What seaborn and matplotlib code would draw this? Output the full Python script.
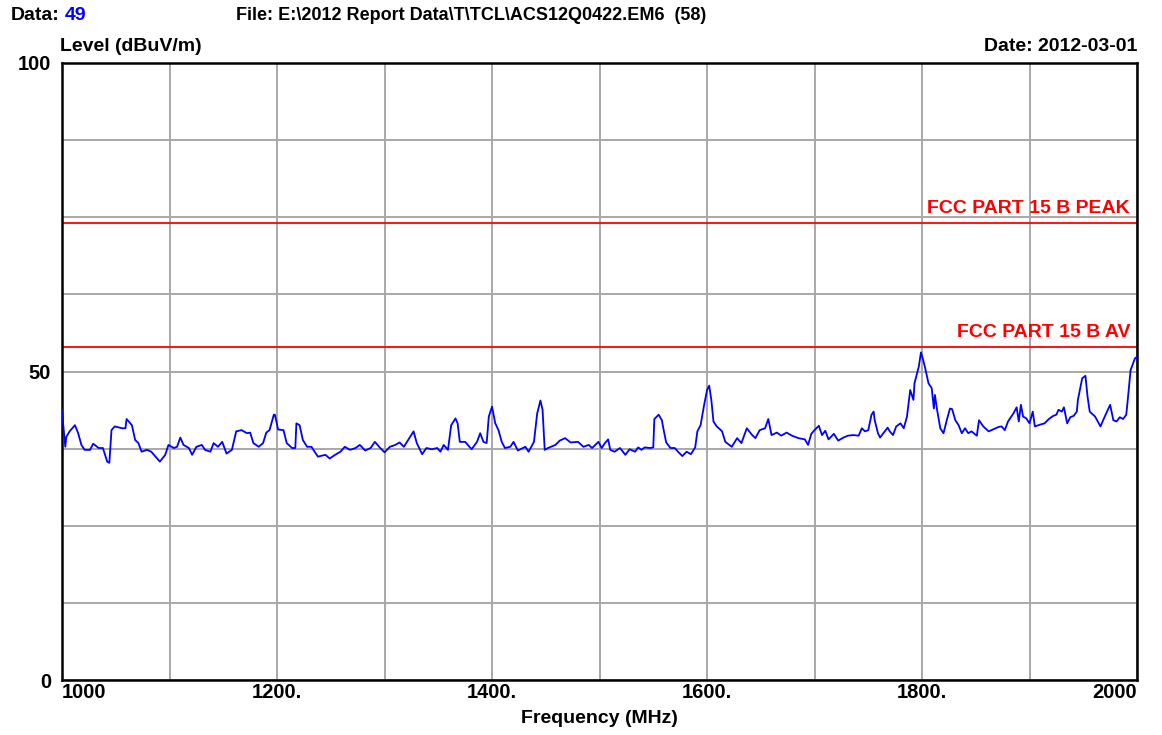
import matplotlib
matplotlib.use("Agg")
import matplotlib.pyplot as plt
import seaborn as sns
import pandas as pd

# frequency (MHz) and level (dBuV/m)
freq = [1000, 1001, 1003, 1004, 1007, 1012, 1015, 1018, 1021, 1026, 1029, 1034, 1038, 1042, 1044,
        1046, 1049, 1056, 1059, 1060, 1065, 1068, 1071, 1074, 1079, 1083, 1087, 1091, 1096, 1099,
        1104, 1107, 1110, 1113, 1118, 1121, 1125, 1130, 1133, 1138, 1141, 1145, 1149, 1153, 1158,
        1162, 1167, 1172, 1175, 1178, 1183, 1187, 1190, 1193, 1197, 1198, 1201, 1206, 1209, 1214,
        1217, 1218, 1221, 1224, 1228, 1232, 1238,
        1245, 1249, 1254, 1259, 1263, 1268, 1273, 1277, 1282, 1287, 1291, 1296, 1300, 1305, 1310,
        1314, 1318, 1322, 1327, 1330, 1335, 1339, 1344, 1349, 1352, 1355, 1359, 1362, 1366, 1368,
        1370, 1375, 1381, 1386, 1389, 1392, 1395, 1397, 1400, 1403, 1406, 1409, 1412, 1417, 1420,
        1424, 1431, 1434, 1439, 1442, 1445, 1447, 1449, 1452, 1459, 1463, 1468, 1473, 1480, 1485,
        1490, 1493,
        1496, 1499, 1502, 1505, 1508, 1510, 1514, 1519, 1524, 1528, 1533, 1536, 1539, 1542, 1547,
        1550, 1551, 1555, 1558, 1559, 1562, 1566, 1570, 1573, 1577, 1581, 1585, 1589, 1591, 1594,
        1597, 1600, 1602, 1604, 1606, 1609, 1611, 1614, 1617, 1623, 1628, 1632, 1637, 1642, 1645,
        1649, 1654, 1657, 1660, 1665, 1669, 1674, 1679, 1685, 1691, 1694, 1697, 1700, 1704, 1707,
        1710, 1713, 1718, 1722, 1727, 1731, 1736, 1741, 1744,
        1747, 1750, 1753, 1755, 1756, 1759, 1761, 1764, 1768, 1770, 1773, 1776, 1780, 1783, 1786,
        1789, 1792, 1793, 1797, 1799, 1801, 1803, 1806, 1809, 1811, 1812, 1814, 1817, 1820, 1823,
        1826, 1828, 1831, 1834, 1837, 1840, 1843, 1846, 1851, 1853, 1857, 1862, 1866, 1871, 1874,
        1877, 1880, 1885, 1888, 1890, 1892, 1894, 1897, 1900, 1903, 1905, 1910, 1914, 1918, 1922,
        1925, 1927, 1930, 1932, 1935, 1938, 1941, 1944, 1945, 1949, 1952, 1954, 1956, 1961, 1966,
        1970, 1975, 1978, 1981, 1984, 1987, 1990, 1992, 1994, 1998, 2000]
level = [43.8, 41.6, 37.8, 39.4, 40.3, 41.3, 40.0, 38.1, 37.3, 37.3, 38.3, 37.6, 37.6, 35.4, 35.2,
         40.5, 41.1, 40.8, 40.8, 42.3, 41.3, 38.9, 38.4, 37.0, 37.3, 37.0, 36.2, 35.4, 36.5, 38.1,
         37.6, 37.8, 39.3, 38.1, 37.6, 36.5, 37.8, 38.1, 37.3, 37.0, 38.4, 37.8, 38.6, 36.7, 37.3,
         40.3, 40.5, 40.0, 40.1, 38.4, 37.8, 38.4, 40.1, 40.5, 43.0, 43.0, 40.6, 40.5, 38.4, 37.6,
         37.6, 41.6, 41.3, 38.9, 37.8, 37.8, 36.2,
         36.5, 35.9, 36.5, 37.0, 37.8, 37.3, 37.6, 38.1, 37.2, 37.6, 38.6, 37.6, 36.9, 37.8, 38.1,
         38.5, 37.8, 38.9, 40.3, 38.4, 36.6, 37.6, 37.4, 37.6, 37.0, 38.1, 37.3, 41.3, 42.4, 41.6,
         38.6, 38.6, 37.4, 38.6, 40.0, 38.6, 38.4, 42.7, 44.3, 41.6, 40.5, 38.6, 37.6, 37.8, 38.6,
         37.2, 37.8, 37.0, 38.6, 43.2, 45.3, 43.8, 37.3, 37.6, 38.1, 38.8, 39.2, 38.5, 38.6, 37.8,
         38.1, 37.6,
         38.1, 38.6, 37.6, 38.4, 39.0, 37.3, 37.0, 37.6, 36.5, 37.4, 37.0, 37.7, 37.3, 37.7, 37.6,
         37.7, 42.3, 43.0, 42.1, 41.1, 38.5, 37.6, 37.6, 37.0, 36.3, 37.0, 36.6, 37.7, 40.3, 41.3,
         44.3, 47.0, 47.7, 45.4, 41.9, 41.1, 40.8, 40.3, 38.6, 37.8, 39.2, 38.4, 40.8, 39.7, 39.2,
         40.5, 40.8, 42.3, 39.7, 40.1, 39.6, 40.1, 39.6, 39.2, 39.0, 38.1, 39.9, 40.5, 41.2, 39.7,
         40.4, 39.0, 39.9, 38.8, 39.3, 39.6, 39.7, 39.6, 40.8,
         40.3, 40.5, 43.0, 43.5, 42.1, 40.0, 39.3, 40.0, 40.9, 40.3, 39.7, 41.1, 41.6, 40.8, 42.7,
         47.0, 45.4, 48.1, 50.8, 53.1, 51.9, 50.5, 48.1, 47.3, 44.0, 46.2, 43.8, 40.8, 40.0, 42.1,
         44.0, 43.9, 42.1, 41.3, 40.0, 40.8, 40.0, 40.3, 39.6, 42.1, 41.1, 40.3, 40.6, 41.0, 41.1,
         40.5, 41.9, 43.2, 44.2, 41.9, 44.6, 42.7, 42.4, 41.6, 43.5, 41.1, 41.4, 41.6, 42.3, 42.8,
         43.0, 43.8, 43.5, 44.2, 41.6, 42.6, 42.8, 43.5, 45.4, 48.9, 49.3, 45.9, 43.5, 42.7, 41.1,
         42.7, 44.6, 42.1, 41.9, 42.6, 42.3, 43.0, 46.5, 50.2, 52.1, 52.4]

limit_names = ["FCC PART 15 B PEAK", "FCC PART 15 B AV"]
limit_values = [74, 54]

x_ticks = [1000, 1100, 1200, 1300, 1400, 1500, 1600, 1700, 1800, 1900, 2000]
x_labels = ["1000", "", "1200.", "", "1400.", "", "1600.", "", "1800.", "", "2000"]
y_ticks = [0, 12.5, 25, 37.5, 50, 62.5, 75, 87.5, 100]
y_labels = ["0", "", "", "", "50", "", "", "", "100"]

sns.set_style("white")
plt.rcParams['font.family'] = ['Liberation Sans', 'DejaVu Sans']
plt.rcParams['font.weight'] = 'bold'
for key in ['text.color', 'axes.labelcolor', 'xtick.color', 'ytick.color']:
    plt.rcParams[key] = 'black'

df = pd.DataFrame({'freq': freq, 'level': level})

fig = plt.figure(figsize=(11.62, 7.35), dpi=100)
ax = fig.add_axes([0.0534, 0.0748, 0.9251, 0.8395])

sns.lineplot(x='freq', y='level', data=df, color='#0000ff', linewidth=1.3, ax=ax, zorder=3)

for name, val in zip(limit_names, limit_values):
    ax.axhline(val, color='#ff0000', linewidth=1.3, zorder=2)
    ax.text(1993.5, val + 1.0, name, color='#ff0000', fontsize=14, fontweight='bold',
            ha='right', va='bottom')

ax.set_xlim(1000, 2000)
ax.set_ylim(0, 100)
ax.set_xticks(x_ticks)
ax.set_xticklabels(x_labels, fontsize=14.5, fontweight='bold')
ax.set_yticks(y_ticks)
ax.set_yticklabels(y_labels, fontsize=14.5, fontweight='bold')
lbls = ax.get_xticklabels()
lbls[0].set_ha('left')
lbls[-1].set_ha('right')
ax.tick_params(axis='x', length=0, pad=2)
ax.tick_params(axis='y', length=0, pad=8)
ax.grid(True, color='#a8a8a8', linewidth=1.4)
ax.set_axisbelow(True)
for s in ax.spines.values():
    s.set_color('black')
    s.set_linewidth(1.8)
ax.set_xlabel('Frequency (MHz)', fontsize=14, fontweight='bold', labelpad=6)
ax.set_ylabel('')

fig.text(0.009, 0.979, 'Data:', fontsize=14, fontweight='bold', va='center')
fig.text(0.056, 0.979, '49', fontsize=14, fontweight='bold', va='center', color='#0000ff')
fig.text(0.203, 0.979, 'File: E:\\2012 Report Data\\T\\TCL\\ACS12Q0422.EM6  (58)',
         fontsize=13, fontweight='bold', va='center')
fig.text(0.052, 0.937, 'Level (dBuV/m)', fontsize=14, fontweight='bold', va='center')
fig.text(0.9785, 0.937, 'Date: 2012-03-01', fontsize=14, fontweight='bold', va='center',
         ha='right')

fig.savefig('out.png', dpi=100)
